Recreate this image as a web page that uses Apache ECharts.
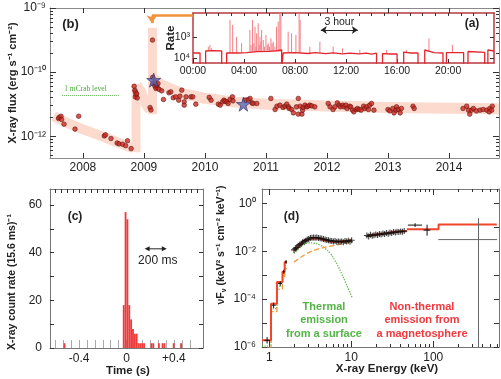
<!DOCTYPE html>
<html><head><meta charset="utf-8">
<script src="https://cdn.jsdelivr.net/npm/echarts@6/dist/echarts.min.js"></script>
<style>html,body{margin:0;padding:0;background:#fff}#c{width:501px;height:379px}</style>
</head><body><div id="c"></div><script>
// ---------- Panel (b): long-term flux history ----------
const yearTicks = [2008, 2009, 2010, 2011, 2012, 2013, 2014];
const fluxTicks = [1e-11, 1e-10, 1e-9];
const fluxTickLabels = ['10⁻¹²', '10⁻¹⁰', '10⁻⁹'];
const dotsQuiescent = [[2007.60,1.89e-11],[2007.61,1.96e-11],[2007.64,2.05e-11],[2007.65,1.82e-11],[2007.69,1.54e-11],[2007.87,1.29e-11],[2007.93,2.05e-11],[2008.35,1.01e-11],[2008.37,1.05e-11],[2008.46,9.2e-12],[2008.56,7.85e-12],[2008.59,7.6e-12],[2008.65,7.5e-12],[2008.70,7.1e-12],[2008.73,8.5e-12],[2008.79,6.4e-12]];
const dotsOutburst = [[2008.84,6.0e-11],[2008.85,5.2e-11],[2008.86,4.9e-11],[2008.87,4.4e-11],[2008.86,4.1e-11],[2008.89,3.96e-11],[2008.88,4.6e-11],[2009.10,2.8e-11],[2009.115,2.56e-11],[2009.14,3.16e-10],[2009.143,8.26e-11],[2009.18,7.05e-11],[2009.153,6.65e-11],[2009.18,6.04e-11],[2009.197,5.56e-11],[2009.218,5.77e-11],[2009.25,5.37e-11],[2009.29,5.1e-11],[2009.21,6.3e-11],[2009.23,6.65e-11]];
const dotsDecay = [[2009.32,3.74e-11],[2009.41,4.75e-11],[2009.44,4.92e-11],[2009.48,3.98e-11],[2009.52,4.11e-11],[2009.57,3.65e-11],[2009.62,5.23e-11],[2009.59,4.22e-11],[2009.66,3.44e-11],[2009.69,4.11e-11],[2009.77,4.11e-11],[2009.80,4.11e-11],[2009.66,3.05e-11],[2009.85,3.16e-11],[2010.07,4.03e-11],[2010.10,3.65e-11],[2010.22,3.16e-11],[2010.25,3.05e-11],[2010.29,3.44e-11],[2010.31,3.65e-11],[2010.33,3.52e-11],[2010.36,3.44e-11],[2010.38,3.24e-11],[2010.41,3.74e-11],[2010.45,4.11e-11],[2010.46,3.56e-11],[2010.66,3.65e-11],[2010.71,3.74e-11],[2010.74,3.88e-11],[2010.77,3.31e-11],[2010.79,3.24e-11],[2010.85,3.24e-11],
[2011.08,3.88e-11],[2011.15,2.61e-11],[2011.18,2.94e-11],[2011.23,3.05e-11],[2011.28,2.81e-11],[2011.31,2.94e-11],[2011.34,3.16e-11],[2011.37,2.87e-11],[2011.38,2.71e-11],[2011.42,2.61e-11],[2011.45,2.31e-11],[2011.50,2.87e-11],[2011.53,3.88e-11],[2011.53,2.21e-11],[2011.56,2.94e-11],[2011.59,2.21e-11],[2011.60,2.55e-11],[2011.61,2.81e-11],[2011.64,3.05e-11],[2011.67,2.87e-11],[2011.69,2.94e-11],[2011.72,3.05e-11],[2011.75,2.97e-11],[2011.80,2.87e-11],
[2012.02,3.24e-11],[2012.05,2.87e-11],[2012.10,2.61e-11],[2012.13,2.87e-11],[2012.17,3.31e-11],[2012.20,3.05e-11],[2012.22,2.87e-11],[2012.26,3.05e-11],[2012.28,2.87e-11],[2012.31,3.05e-11],[2012.33,2.71e-11],[2012.37,2.94e-11],[2012.39,2.87e-11],[2012.42,2.55e-11],[2012.44,2.4e-11],[2012.48,2.61e-11],[2012.50,2.71e-11],[2012.53,2.61e-11],[2012.56,2.55e-11],[2012.60,2.94e-11],[2012.62,2.71e-11],[2012.65,2.87e-11],[2012.68,2.61e-11],[2012.70,3.05e-11],[2012.73,3.24e-11],[2012.77,2.55e-11],
[2013.00,2.61e-11],[2013.03,2.48e-11],[2013.08,2.71e-11],[2013.10,2.31e-11],[2013.13,2.55e-11],[2013.14,2.87e-11],[2013.17,2.61e-11],[2013.20,2.31e-11],[2013.22,2.71e-11],[2013.41,2.94e-11],[2013.43,2.71e-11],
[2014.23,2.71e-11],[2014.29,2.94e-11],[2014.32,2.55e-11],[2014.34,2.21e-11],[2014.37,2.55e-11],[2014.40,2.71e-11],[2014.45,2.48e-11],[2014.51,2.55e-11],[2014.56,2.61e-11],[2014.62,2.55e-11],[2014.67,2.71e-11],[2014.71,2.94e-11],[2014.66,2.4e-11],[2014.70,2.55e-11]];
const starPoints = [[2009.16,7.5e-11],[2010.63,3.16e-11]];
const bandQuiescent = [[2007.52,2.05e-11],[2007.75,1.6e-11],[2008.0,1.28e-11],[2008.25,1.05e-11],[2008.5,8.5e-12],[2008.82,6.5e-12]];
const bandRise1 = [[2008.87,5.6e-12],[2008.87,6.6e-11]];
const bandDecay1 = [[2008.88,6.3e-11],[2008.95,5.0e-11],[2009.02,3.3e-11],[2009.1,2.5e-11]];
const bandRise2 = [[2009.14,2.2e-11],[2009.14,4.9e-10]];
const bandMain = [[2009.16,7.8e-11],[2009.3,6.2e-11],[2009.6,4.7e-11],[2010.0,3.9e-11],[2010.5,3.4e-11],[2011.0,3.15e-11],[2012.0,2.95e-11],[2013.0,2.8e-11],[2014.0,2.72e-11],[2014.82,2.68e-11]];
const mCrabLevel = [[2007.66,4.36e-11],[2008.59,4.36e-11]];
const arrowPath = [[2009.80,7.6e-10],[2009.13,7.6e-10],[2009.13,5.8e-10]];

// ---------- Panel (a): one-day count-rate inset ----------
const hourTicks = [0, 4, 8, 12, 16, 20];
const rateTicks = [1000, 10000];
const rateBaseline = [[0,5780],[0.55,5780],[0.55,30000],[0.99,30000],[0.99,4640],[1.6,4500],[2.25,4640],[2.25,30000],[2.64,30000],[2.64,5780],[3.5,5780],[4.21,5500],[4.21,5180],[5.0,5000],[6.0,4800],[6.6,4500],[6.95,4160],[6.95,30000],[7.07,30000],[7.07,5780],[8.0,5500],[9.0,6100],[9.6,5600],[10.4,6200],[11.0,5700],[11.7,6300],[12.3,5800],[13.0,6400],[13.6,5900],[14.0,6600],[14.39,5900],[14.39,30000],[14.86,30000],[14.86,6200],[15.5,6450],[16.0,6450],[16.0,30000],[16.52,30000],[16.52,5200],[17.1,5780],[17.64,5780],[17.64,30000],[18.17,30000],[18.17,4160],[18.9,5500],[19.6,5780],[19.6,30000],[19.87,30000],[19.87,5500],[21.22,5600],[21.22,30000],[21.56,30000],[21.56,4900],[22.87,5400],[22.87,30000],[23.12,30000],[23.12,4160],[23.6,4640]];
// [time (h), peak, local baseline]
const rateSpikes = [[1.20,2900,4640],[1.33,2400,4640],[1.46,3450,4640],[2.90,155,5780],[3.11,268,5780],[3.42,967,5780],[3.81,2000,5780],[4.46,464,5000],[4.55,2400,5000],[4.67,155,5000],[4.77,2000,5000],[4.86,323,5000],[4.93,2900,5000],[4.99,667,5000],[5.11,222,5000],[5.18,2400,5000],[5.25,967,5000],[5.32,1670,5000],[5.38,464,5000],[5.51,1390,5000],[5.6,2900,5000],[5.72,803,5000],[5.83,2400,5000],[5.90,2000,5000],[6.0,2900,5000],[6.11,1150,5000],[6.2,2000,5000],[6.29,1670,5000],[6.42,2900,5000],[6.55,323,5000],[6.68,186,5000],[6.81,40,5000],[6.89,40,5000],[7.46,558,5780],[7.73,667,5780],[8.07,803,5780],[8.32,40,5780],[8.40,155,5780],[9.16,2900,5780],[9.95,1670,5780],[10.99,2900,5780],[11.72,3450,5780],[13.08,4160,5780],[15.17,4160,6450],[16.73,4160,5780],[18.50,1150,5000],[20.34,2400,5500]];
const threeHour = [10.02, 12.92, 464];

// ---------- Panel (c): burst light curve ----------
const timeTicks = [-0.4, 0, 0.4];
const histBinWidth = 0.0156;
const histBinStarts = [-0.5304,-0.0312,-0.0156,0,0.0156,0.0312,0.0468,0.0624,0.078,0.0936,0.1092,0.1248,0.1404,0.2028,0.2184,0.2652,0.2964,0.312,0.39,0.4524];
const histCounts = [2,18,57,54,18,12,8,6,6,2,2,2,2,2,2,2,2,2,2,2];
const twoHundredMs = [0.153, 0.34, 41.6];

// ---------- Panel (d): broadband spectrum ----------
const energyTicks = [1, 10, 100];
const nuFnuTicks = [1e-6, 1e-5, 1e-4, 1e-3, 1e-2, 1e-1, 1];
const modelLowSteps = [[0.815,1.9e-6],[1.05,6.5e-5],[1.24,5.2e-4],[1.45,1.4e-3],[1.54,3.6e-3],[1.64,3.6e-3]];
const modelXis = [[2.0,0.0105],[2.2,0.015],[2.4,0.019],[2.62,0.026],[2.9,0.031],[3.3,0.035],[3.8,0.035],[4.5,0.031],[5.5,0.026],[6.5,0.025],[8,0.026],[10.2,0.029]];
const modelPin = [[15.5,0.045],[20,0.05],[25,0.055],[30,0.06],[36,0.066],[44,0.07],[47.6,0.07]];
const modelHxdSteps = [[47.6,0.083],[116,0.134],[595,0.134]];
const thermalLow = [[0.815,1.1e-6],[1.05,4.0e-5],[1.24,3.4e-4],[1.45,9.5e-4],[1.54,2.5e-3],[1.64,2.5e-3]];
const thermal = [[2.0,8.1e-3],[2.3,0.013],[2.6,0.018],[3.0,0.0226],[3.5,0.022],[4.18,0.018],[4.8,0.013],[5.55,8.1e-3],[6.3,4.2e-3],[7.0,2.2e-3],[7.7,1.1e-3],[8.45,5.3e-4],[9.3,2.5e-4],[10.2,1.2e-4]];
const nonThermalLow = [[0.815,9e-7],[1.05,3.0e-5],[1.24,2.6e-4],[1.45,7.5e-4],[1.54,1.9e-3],[1.64,1.9e-3]];
const nonThermal = [[2.0,3.6e-3],[2.4,5.5e-3],[2.88,8.1e-3],[3.8,0.012],[5.55,0.0164],[8.05,0.021],[10.2,0.025]];
const xisData = [[2.0,0.0115],[2.08,0.013],[2.16,0.0145],[2.25,0.017],[2.35,0.019],[2.45,0.021],[2.55,0.024],[2.66,0.026],[2.78,0.028],[2.9,0.031],[3.03,0.033],[3.17,0.036],[3.32,0.037],[3.47,0.038],[3.63,0.037],[3.8,0.038],[3.98,0.036],[4.17,0.035],[4.37,0.034],[4.58,0.033],[4.8,0.031],[5.03,0.030],[5.27,0.029],[5.52,0.028],[5.78,0.027],[6.05,0.026],[6.34,0.027],[6.64,0.025],[6.96,0.026],[7.29,0.025],[7.64,0.026],[8.0,0.024],[8.38,0.027],[8.78,0.026],[9.2,0.028],[9.64,0.025],[10.1,0.029]];
const pinData = [[15.5,0.046],[16.3,0.042],[17.1,0.049],[18,0.045],[18.9,0.047],[19.9,0.051],[20.9,0.048],[22,0.053],[23.1,0.05],[24.3,0.056],[25.5,0.053],[26.8,0.059],[28.2,0.055],[29.6,0.061],[31.1,0.058],[32.7,0.064],[34.4,0.061],[36.1,0.066],[38,0.064],[40,0.068],[42,0.066],[44.2,0.07]];
// [E, F, Elo, Ehi, Flo, Fhi]
const lowErrData = [[0.94,1.9e-6,0.87,1.02,1.4e-6,2.6e-6],[1.13,5.6e-5,1.07,1.2,4.3e-5,7.2e-5],[1.36,4.5e-4,1.28,1.43,3.6e-4,5.6e-4],[1.5,1.4e-3,1.46,1.54,1.15e-3,1.7e-3],[1.6,3.6e-3,1.56,1.64,3.0e-3,4.3e-3]];
const hxdErrData = [[60,0.125,49,73,0.105,0.15],[84,0.077,76,92,0.045,0.13]];
const hxdLimitData = [[356,0.031,115,600,1e-6,0.247]];

// ---------- helpers ----------
const FONT = '"Liberation Sans", Arial, Helvetica, sans-serif';
const SUP = {'-':'⁻','0':'⁰','1':'¹','2':'²','3':'³','4':'⁴','5':'⁵','6':'⁶','7':'⁷','8':'⁸','9':'⁹'};
function sup(n){ return String(n).split('').map(c => SUP[c]).join(''); }
function range(a, b, s){ const r=[]; for(let v=a; v<=b+1e-9; v+=s) r.push(+v.toFixed(4)); return r; }
function logMinor(d0, d1){ const r=[]; for(let d=d0; d<=d1; d++) for(let k=2;k<=9;k++) r.push(k*Math.pow(10,d)); return r; }

function axis(o){
  const base = {
    type:'value',
    axisLine:{show:true,onZero:false,lineStyle:{color:'#8a8a8a',width:1}},
    axisTick:{show:true,inside:true,length:5,lineStyle:{color:'#333',width:1}},
    axisLabel:{show:false},
    splitLine:{show:false},
    splitArea:{show:false}
  };
  const r = Object.assign({}, base);
  for (const k in o) {
    if (o[k] && typeof o[k]==='object' && !Array.isArray(o[k]) && base[k] && typeof base[k]==='object') r[k] = Object.assign({}, base[k], o[k]);
    else r[k] = o[k];
  }
  return r;
}
const lbl = (extra) => Object.assign({show:true, fontFamily:FONT, fontSize:12, color:'#222'}, extra);

const bMin = 4.57e-12, bMax = 1e-9;
const aMin = 72, aMax = 17300;
const insetRed = '#b83a3f';

const xAxes = [
  axis({gridIndex:0, position:'bottom', min:2007.46, max:2014.82, axisTick:{customValues:yearTicks,length:5}, axisLabel:lbl({customValues:yearTicks, margin:4, formatter:v=>String(Math.round(v))})}),
  axis({gridIndex:0, position:'top', min:2007.46, max:2014.82, axisTick:{customValues:yearTicks,length:5}}),
  axis({gridIndex:1, position:'bottom', min:0, max:23.6, axisLine:{lineStyle:{color:insetRed,width:1.5}}, axisTick:{customValues:hourTicks,length:4}, axisLabel:lbl({customValues:hourTicks, fontSize:10.5, margin:3, formatter:v=>(v<10?'0':'')+Math.round(v)+':00'})}),
  axis({gridIndex:1, position:'top', min:0, max:23.6, axisLine:{lineStyle:{color:insetRed,width:1.5}}, axisTick:{customValues:range(1,23,1),length:3}}),
  axis({gridIndex:2, position:'bottom', min:-0.645, max:0.645, axisLine:{lineStyle:{color:'#777'}}, axisTick:{customValues:timeTicks,length:6,lineStyle:{color:'#111'}}, axisLabel:lbl({customValues:timeTicks, margin:5, formatter:v=>Math.abs(v)<1e-9?'0':(v>0?'+':'')+v.toFixed(1)})}),
  axis({gridIndex:2, position:'bottom', min:-0.645, max:0.645, axisLine:{show:false}, axisTick:{customValues:range(-0.6,0.6,0.0667),length:8,lineStyle:{color:'#aaa'}}}),
  axis({gridIndex:2, position:'top', min:-0.645, max:0.645, axisLine:{lineStyle:{color:'#777'}}, axisTick:{customValues:range(-0.6,0.6,0.05),length:4}}),
  axis({gridIndex:3, type:'log', position:'bottom', min:0.815, max:633, axisLine:{lineStyle:{color:'#777'}}, axisTick:{customValues:energyTicks,length:6}, axisLabel:lbl({customValues:energyTicks, margin:5, formatter:v=>String(Math.round(v))})}),
  axis({gridIndex:3, type:'log', position:'bottom', min:0.815, max:633, axisLine:{show:false}, axisTick:{customValues:logMinor(0,2).filter(v=>v<633),length:3}}),
  axis({gridIndex:3, type:'log', position:'top', min:0.815, max:633, axisLine:{lineStyle:{color:'#777'}}, axisTick:{customValues:energyTicks,length:6}}),
  axis({gridIndex:3, type:'log', position:'top', min:0.815, max:633, axisLine:{show:false}, axisTick:{customValues:logMinor(0,2).filter(v=>v<633),length:3}})
];
const yAxes = [
  axis({gridIndex:0, type:'log', position:'left', min:bMin, max:bMax, axisTick:{customValues:fluxTicks,length:6}, axisLabel:lbl({customValues:fluxTicks, margin:4, formatter:v=>fluxTickLabels[Math.round(Math.log10(v))+11]})}),
  axis({gridIndex:0, type:'log', position:'left', min:bMin, max:bMax, axisLine:{show:false}, axisTick:{customValues:logMinor(-12,-10).filter(v=>v>bMin&&v<bMax),length:3}}),
  axis({gridIndex:0, type:'log', position:'right', min:bMin, max:bMax, axisTick:{customValues:fluxTicks,length:6}}),
  axis({gridIndex:0, type:'log', position:'right', min:bMin, max:bMax, axisLine:{show:false}, axisTick:{customValues:logMinor(-12,-10).filter(v=>v>bMin&&v<bMax),length:3}}),
  axis({gridIndex:1, type:'log', inverse:true, position:'left', min:aMin, max:aMax, axisLine:{lineStyle:{color:insetRed,width:1.5}}, axisTick:{customValues:rateTicks,length:4}, axisLabel:lbl({customValues:rateTicks, fontSize:10.5, margin:3, formatter:v=>'10'+sup(Math.round(Math.log10(v)))})}),
  axis({gridIndex:1, type:'log', inverse:true, position:'right', min:aMin, max:aMax, axisLine:{lineStyle:{color:insetRed,width:1.5}}, axisTick:{customValues:rateTicks,length:4}}),
  axis({gridIndex:2, position:'left', min:0, max:66.7, axisLine:{lineStyle:{color:'#777'}}, axisTick:{customValues:range(0,60,10),length:4}, axisLabel:lbl({customValues:[0,20,40,60], margin:8})}),
  axis({gridIndex:2, position:'right', min:0, max:66.7, axisLine:{lineStyle:{color:'#777'}}, axisTick:{customValues:range(0,60,10),length:4}}),
  axis({gridIndex:3, type:'log', position:'left', min:1e-6, max:4.04, axisLine:{lineStyle:{color:'#777'}}, axisTick:{customValues:nuFnuTicks,length:5}, axisLabel:lbl({customValues:[1e-6,1e-4,1e-2,1], margin:6, formatter:v=>'10'+sup(Math.round(Math.log10(v)))})}),
  axis({gridIndex:3, type:'log', position:'right', min:1e-6, max:4.04, axisLine:{lineStyle:{color:'#777'}}, axisTick:{customValues:nuFnuTicks,length:5}})
];

const BAND = '#fcdacd';
const bandSeries = (data, w, extra) => Object.assign({type:'line', xAxisIndex:0, yAxisIndex:0, data, symbol:'none', z:1, lineStyle:{color:BAND, width:w, cap:'butt', join:'round'}, silent:true}, extra||{});
const dotStyle = {color:'#cc2a22', borderColor:'#5a120e', borderWidth:0.7};
const STAR = 'path://M50,0 L61,35 L98,35 L68,57 L79,91 L50,70 L21,91 L32,57 L2,35 L39,35 Z';
const CROSS = 'path://M0,5 L10,5 M5,0 L5,10';

function errRender(color){
  return function(params, api){
    const a = api.coord([api.value(2), api.value(1)]), b = api.coord([api.value(3), api.value(1)]);
    const c = api.coord([api.value(0), api.value(4)]), d = api.coord([api.value(0), api.value(5)]);
    const st = {stroke: color, lineWidth: 1};
    return {type:'group', children:[
      {type:'line', shape:{x1:a[0],y1:a[1],x2:b[0],y2:b[1]}, style:st},
      {type:'line', shape:{x1:c[0],y1:c[1],x2:d[0],y2:d[1]}, style:st}]};
  };
}
const dLine = (data, color, width, type, extra) => Object.assign({type:'line', xAxisIndex:7, yAxisIndex:8, data, symbol:'none', lineStyle:{color, width, type}, silent:true}, extra||{});

const series = [
  bandSeries(bandQuiescent, 10, {markLine:{silent:true, symbol:'none', animation:false,
    data:[[{coord:mCrabLevel[0]},{coord:mCrabLevel[1]}]],
    lineStyle:{color:'#58b04a', width:1, type:'dotted'},
    label:{show:true, position:'insideStartTop', formatter:'1 mCrab level', fontFamily:'"Liberation Serif", "DejaVu Serif", serif', fontSize:7.5, color:'#4caa3e', distance:2}}}),
  bandSeries(bandRise1, 9),
  bandSeries(bandDecay1, 10),
  bandSeries(bandRise2, 9),
  bandSeries(bandMain, 11, {markLine:{silent:true, animation:false, symbolSize:8,
    lineStyle:{color:'#f2923a', width:2.5, type:'solid'}, label:{show:false},
    data:[[{coord:arrowPath[0], symbol:'none'},{coord:arrowPath[1], symbol:'none'}],
          [{coord:arrowPath[1], symbol:'none'},{coord:arrowPath[2], symbol:'arrow'}]]}}),
  {type:'scatter', xAxisIndex:0, yAxisIndex:0, data:dotsQuiescent.concat(dotsOutburst, dotsDecay), symbolSize:4.6, itemStyle:dotStyle, z:3, silent:true},
  {type:'scatter', xAxisIndex:0, yAxisIndex:0, data:starPoints, symbol:STAR, symbolSize:14, itemStyle:{color:'#5a66b2', borderColor:'#2b2f68', borderWidth:0.8}, z:4, silent:true},

  // inset (a)
  {type:'custom', xAxisIndex:2, yAxisIndex:4, data:rateSpikes, clip:true, silent:true, encode:{x:0,y:1},
    renderItem:function(params, api){
      const p0 = api.coord([api.value(0), api.value(2)]), p1 = api.coord([api.value(0), api.value(1)]);
      return {type:'line', shape:{x1:p0[0],y1:p0[1],x2:p1[0],y2:p1[1]}, style:{stroke:'#f27f86', lineWidth:1}};
    }},
  {type:'line', xAxisIndex:2, yAxisIndex:4, data:rateBaseline, symbol:'none', lineStyle:{color:'#e3262d', width:1.3}, silent:true,
    markLine:{silent:true, animation:false, symbol:['arrow','arrow'], symbolSize:6,
      lineStyle:{color:'#222', width:1, type:'solid'},
      label:{show:true, position:'insideMiddleTop', formatter:'3 hour', fontFamily:FONT, fontSize:10.5, color:'#222', distance:2},
      data:[[{coord:[threeHour[0], threeHour[2]]},{coord:[threeHour[1], threeHour[2]]}]]}},

  // panel (c)
  {type:'custom', xAxisIndex:4, yAxisIndex:6, data:histBinStarts.map((t,i)=>[t, histCounts[i]]), clip:true, silent:true, encode:{x:0,y:1},
    renderItem:function(params, api){
      const p0 = api.coord([api.value(0), api.value(1)]), p1 = api.coord([api.value(0)+histBinWidth, 0]);
      return {type:'rect', shape:{x:p0[0], y:p0[1], width:p1[0]-p0[0], height:p1[1]-p0[1]}, style:{fill:'#ee3b3b'}};
    }},

  // panel (d)
  dLine(thermalLow, '#5cba48', 1.2, 'dotted', {step:'end'}),
  dLine(thermal, '#5cba48', 1.3, 'dotted', {smooth:true}),
  dLine(nonThermalLow, '#f39a3c', 1.2, 'dashed', {step:'end'}),
  dLine(nonThermal, '#f39a3c', 1.3, 'dashed', {smooth:true}),
  dLine(modelLowSteps, '#f1462a', 2, 'solid', {step:'end'}),
  dLine(modelXis, '#f1462a', 2.4, 'solid', {smooth:true}),
  dLine(modelPin, '#f1462a', 2.4, 'solid', {smooth:true}),
  dLine(modelHxdSteps, '#f1462a', 2, 'solid', {step:'end'}),
  {type:'scatter', xAxisIndex:7, yAxisIndex:8, data:xisData.concat(pinData), symbol:CROSS, symbolSize:6, itemStyle:{color:'rgba(0,0,0,0)', borderColor:'#111', borderWidth:1.1}, silent:true, z:4},
  {type:'custom', xAxisIndex:7, yAxisIndex:8, data:lowErrData, encode:{x:0,y:1}, clip:true, silent:true, renderItem:errRender('#111'), z:4},
  {type:'custom', xAxisIndex:7, yAxisIndex:8, data:hxdErrData, encode:{x:0,y:1}, clip:true, silent:true, renderItem:errRender('#111'), z:4},
  {type:'custom', xAxisIndex:7, yAxisIndex:8, data:hxdLimitData, encode:{x:0,y:1}, clip:true, silent:true, renderItem:errRender('#666'), z:4}
];

const TT = (text, x, y, font, fill, extra) => Object.assign({type:'text', x, y, silent:true, z:100,
  style:{text, font, fill, align:'center', verticalAlign:'middle'}}, extra||{});
const graphic = [
  TT('(b)', 70.5, 24, 'bold 13px '+FONT, '#222'),
  TT('(a)', 472, 24, 'bold 12px '+FONT, '#222'),
  TT('(c)', 75, 217, 'bold 12px '+FONT, '#222'),
  TT('(d)', 291.5, 217, 'bold 12px '+FONT, '#222'),
  TT('X-ray flux (erg s⁻¹ cm⁻²)', 13, 83, 'bold 11px '+FONT, '#222', {rotation:Math.PI/2}),
  TT('Rate', 171, 38, 'bold 11.5px '+FONT, '#222', {rotation:Math.PI/2}),
  TT('X-ray count rate (15.6 ms)⁻¹', 12, 282, 'bold 10.5px '+FONT, '#222', {rotation:Math.PI/2}),
  TT('Time (s)', 128, 371, 'bold 11.5px '+FONT, '#222'),
  TT('X-ray Energy (keV)', 387, 369, 'bold 11.5px '+FONT, '#222'),
  {type:'text', x:221, y:245, rotation:Math.PI/2, silent:true, z:100,
    style:{text:'{m|νF}{s|ν}{m| (keV² s⁻¹ cm⁻² keV⁻¹)}', align:'center', verticalAlign:'middle',
      rich:{m:{font:'bold 10.5px '+FONT, fill:'#222', lineHeight:13}, s:{font:'bold 7px '+FONT, fill:'#222', lineHeight:7, verticalAlign:'bottom'}}}},
  {type:'text', x:324, y:320, silent:true, z:100, style:{text:'Thermal\nemission\nfrom a surface', font:'bold 11px '+FONT, fill:'#55b447', align:'center', verticalAlign:'middle', lineHeight:13.5}},
  {type:'text', x:422, y:320, silent:true, z:100, style:{text:'Non-thermal\nemission from\na magnetosphere', font:'bold 11px '+FONT, fill:'#f2393e', align:'center', verticalAlign:'middle', lineHeight:13.5}}
];

const option = {
  animation:false,
  backgroundColor:'#fff',
  textStyle:{fontFamily:FONT},
  grid:[
    {left:50, top:8, width:449, height:150},
    {left:193, top:13, width:301, height:50, show:true, backgroundColor:'#fff', borderWidth:0},
    {left:50, top:189, width:153, height:159},
    {left:262, top:189, width:237, height:158}
  ],
  xAxis:xAxes,
  yAxis:yAxes,
  series,
  graphic
};
const chart = echarts.init(document.getElementById('c'), null, {renderer:'canvas'});
chart.setOption(option);

// "200 ms" scale bar, placed through panel (c)'s own axes
const finderC = {xAxisIndex:4, yAxisIndex:6};
const q0 = chart.convertToPixel(finderC, [twoHundredMs[0], twoHundredMs[2]]);
const q1 = chart.convertToPixel(finderC, [twoHundredMs[1], twoHundredMs[2]]);
const ah = 5, aw = 2.5;
chart.setOption({graphic: graphic.concat([
  {type:'line', silent:true, z:100, shape:{x1:q0[0]+3, y1:q0[1], x2:q1[0]-3, y2:q1[1]}, style:{stroke:'#222', lineWidth:1}},
  {type:'polygon', silent:true, z:100, shape:{points:[[q0[0],q0[1]],[q0[0]+ah,q0[1]-aw],[q0[0]+ah,q0[1]+aw]]}, style:{fill:'#222'}},
  {type:'polygon', silent:true, z:100, shape:{points:[[q1[0],q1[1]],[q1[0]-ah,q1[1]-aw],[q1[0]-ah,q1[1]+aw]]}, style:{fill:'#222'}},
  {type:'text', silent:true, z:100, x:(q0[0]+q1[0])/2 + 2, y:q0[1]+12, style:{text:'200 ms', font:'12px '+FONT, fill:'#222', align:'center', verticalAlign:'middle'}}
])});
</script></body></html>
